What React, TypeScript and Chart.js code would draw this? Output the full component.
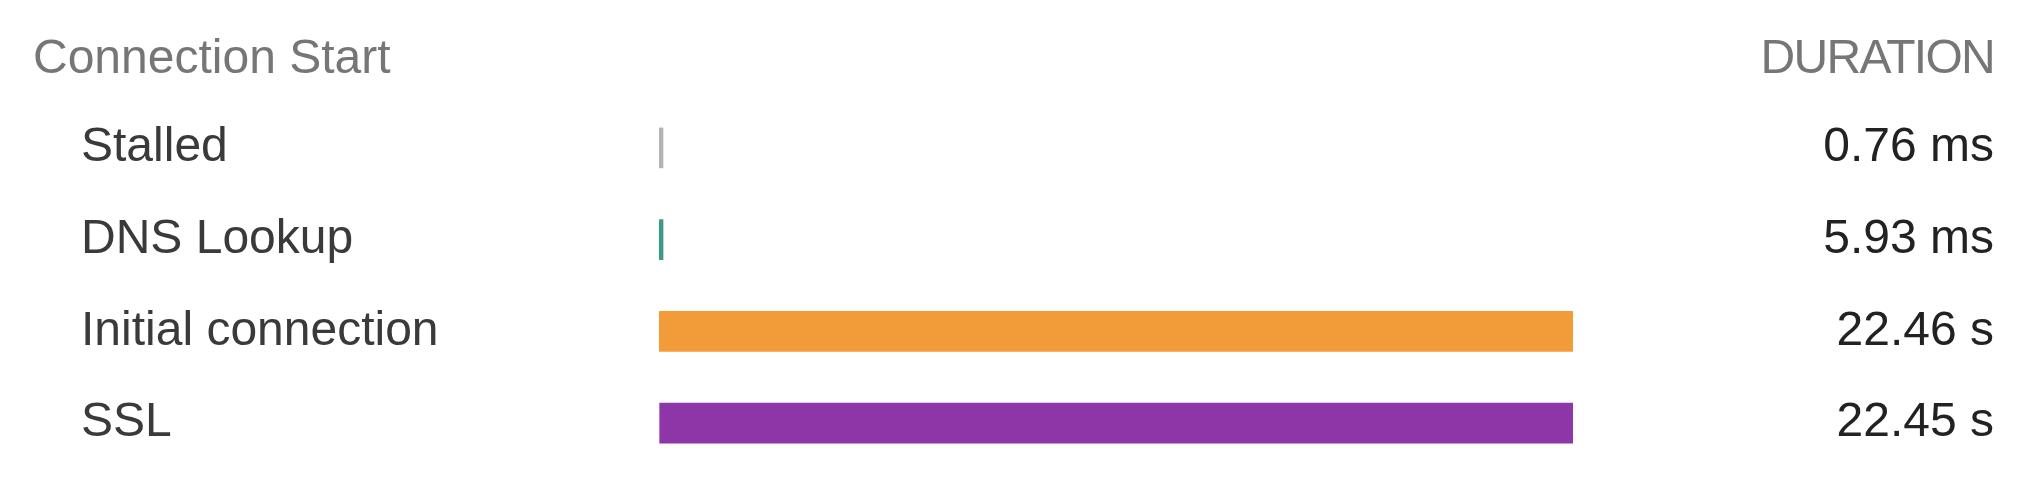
import React, { useEffect, useRef } from "react";
import { Chart, registerables } from "chart.js";

Chart.register(...registerables);

// ---- data ----
const sectionTitle = "Connection Start";
const durationHeader = "DURATION";
const phases = ["Stalled", "DNS Lookup", "Initial connection", "SSL"];
const phaseStartSec = [0, 0.00076, 0.00669, 0.01669];
const phaseDurationSec = [0.00076, 0.00593, 22.46, 22.45];
const phaseColors = ["#b4b4b4", "#3d9886", "#f29c39", "#8e35a8"];

const formatDuration = (s: number) =>
  s < 1 ? `${(s * 1000).toFixed(2)} ms` : `${s.toFixed(2)} s`;
const durationLabels = phaseDurationSec.map(formatDuration);

const FONT = "'Liberation Sans', Arial, Helvetica, sans-serif";

const headerPlugin = {
  id: "sectionHeader",
  afterDraw(chart: any, _args: any, opts: any) {
    const ctx = chart.ctx as CanvasRenderingContext2D;
    ctx.save();
    ctx.font = `${opts.size}px ${FONT}`;
    ctx.fillStyle = opts.color;
    ctx.textBaseline = "alphabetic";
    ctx.textAlign = "left";
    ctx.fillText(opts.left, opts.leftX, opts.baseline);
    ctx.textAlign = "right";
    (ctx as any).letterSpacing = opts.rightSpacing;
    ctx.fillText(opts.right, opts.rightX, opts.baseline);
    ctx.restore();
  },
};

const fitAxis = (width: number) => (s: any) => {
  s.width = width;
  s.paddingTop = 0;
  s.paddingBottom = 0;
};

export default function App() {
  const canvasRef = useRef<HTMLCanvasElement | null>(null);

  useEffect(() => {
    if (!canvasRef.current) return;
    const ranges = phases.map((_, i) => [
      phaseStartSec[i],
      phaseStartSec[i] + phaseDurationSec[i],
    ]);
    const xMax = Math.max(...ranges.map((r) => r[1]));

    const chart = new Chart(canvasRef.current, {
      type: "bar",
      data: {
        labels: phases,
        datasets: [
          {
            data: ranges as any,
            backgroundColor: phaseColors,
            borderWidth: 0,
            borderSkipped: false,
            barThickness: 40,
            minBarLength: 4,
          },
        ],
      },
      plugins: [headerPlugin],
      options: {
        indexAxis: "y",
        responsive: false,
        devicePixelRatio: 1,
        animation: false,
        events: [],
        layout: { padding: { left: 81, right: 40, top: 102, bottom: 9 } },
        plugins: {
          legend: { display: false },
          tooltip: { enabled: false },
          title: { display: false },
          sectionHeader: {
            left: sectionTitle,
            right: durationHeader,
            size: 48,
            color: "#767676",
            leftX: 33,
            rightX: 1994,
            baseline: 73,
            rightSpacing: "-1.7px",
          },
        } as any,
        scales: {
          x: {
            type: "linear",
            min: 0,
            max: xMax,
            display: false,
            grid: { display: false },
          },
          y: {
            type: "category",
            position: "left",
            offset: true,
            grid: { display: false },
            border: { display: false },
            ticks: {
              font: { family: FONT, size: 48 },
              color: "#3a3a3a",
              crossAlign: "far",
              padding: 0,
              labelOffset: 0,
            },
            afterFit: fitAxis(578),
          },
          y2: {
            type: "category",
            axis: "y",
            position: "right",
            labels: durationLabels,
            offset: true,
            grid: { display: false },
            border: { display: false },
            ticks: {
              font: { family: FONT, size: 48 },
              color: "#222222",
              crossAlign: "far",
              padding: 0,
              labelOffset: 0,
            },
            afterFit: fitAxis(421),
          },
        } as any,
      },
    });
    return () => chart.destroy();
  }, []);

  return (
    <div
      style={{
        position: "fixed",
        left: 0,
        top: 0,
        width: 2034,
        height: 478,
        background: "#ffffff",
      }}
    >
      <canvas
        ref={canvasRef}
        width={2034}
        height={478}
        style={{ display: "block", width: 2034, height: 478 }}
      />
    </div>
  );
}
